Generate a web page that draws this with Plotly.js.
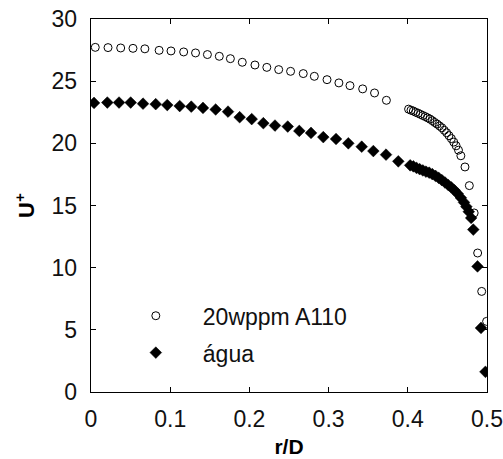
<!DOCTYPE html>
<html>
<head>
<meta charset="utf-8">
<script src="https://cdn.plot.ly/plotly-3.0.1.min.js"></script>
<style>html,body{margin:0;padding:0;background:#fff;}#chart{width:503px;height:459px;}</style>
</head>
<body>
<div id="chart"></div>
<script>
// 20wppm A110 (open circles)
var polyR = [0.0054,0.0215,0.0375,0.053,0.068,0.086,0.101,0.117,0.132,0.147,0.162,0.176,0.191,
  0.207,0.222,0.237,0.252,0.268,0.282,0.298,0.313,0.327,0.343,0.358,0.373,
  0.401,0.404,0.407,0.410,0.413,0.416,0.419,0.422,0.425,0.428,0.431,0.434,0.437,0.440,0.443,0.446,0.449,0.452,0.455,0.458,0.461,0.464,0.467,
  0.4722,0.4777,0.4838,0.4882,0.4933,0.4995];
var polyU = [27.72,27.70,27.67,27.64,27.60,27.48,27.43,27.35,27.27,27.14,27.0,26.81,26.52,
  26.30,26.11,25.93,25.79,25.61,25.39,25.12,24.86,24.64,24.38,24.05,23.46,
  22.75,22.66,22.60,22.50,22.42,22.33,22.24,22.15,22.05,21.95,21.82,21.68,21.55,21.40,21.25,21.05,20.85,20.62,20.38,20.10,19.80,19.45,19.00,
  18.10,16.60,14.40,11.18,8.09,5.68];
// água (filled diamonds)
var aguaR = [0.0038,0.0206,0.0354,0.0501,0.0657,0.0817,0.0963,0.112,0.1266,0.1414,0.1574,0.173,0.1877,
  0.2029,0.2176,0.2323,0.2484,0.2630,0.2778,0.2933,0.3094,0.3249,0.3418,0.3565,0.3725,0.3880,
  0.403,0.407,0.411,0.415,0.419,0.423,0.427,0.431,0.435,0.439,0.443,0.447,0.451,0.455,0.459,0.463,0.467,0.471,0.474,0.477,0.480,0.4827,
  0.488,0.4924,0.498];
var aguaU = [23.25,23.28,23.28,23.28,23.19,23.15,23.08,23.0,22.95,22.85,22.72,22.55,22.1,
  21.95,21.62,21.43,21.35,21.0,20.84,20.5,20.35,20.0,19.73,19.38,19.09,18.55,
  18.23,18.15,18.02,17.92,17.82,17.72,17.64,17.52,17.38,17.22,17.04,16.85,16.65,16.45,16.22,15.95,15.62,15.25,14.9,14.5,14.0,13.06,
  10.1,5.15,1.62];
var seriesNames = ['20wppm A110', 'água'];
var xTicks = [0,0.1,0.2,0.3,0.4,0.5];
var xTickText = ['0','0.1','0.2','0.3','0.4','0.5'];
var yTicks = [0,5,10,15,20,25,30];

var FONT = 'Liberation Sans, Arial, sans-serif';

var traces = [
  {x: polyR, y: polyU, name: seriesNames[0], legendgroup: 'a', type: 'scatter', mode: 'markers',
   marker: {symbol: 'circle-open', size: 8, color: '#000', line: {width: 1, color: '#000'}}},
  {x: aguaR, y: aguaU, name: seriesNames[1], legendgroup: 'b', type: 'scatter', mode: 'markers',
   marker: {symbol: 'diamond', size: 9, color: '#000', line: {width: 0.5, color: '#000'}}}
];

var axCommon = {
  showgrid: false, zeroline: false, showline: true, linecolor: '#000', linewidth: 1.3,
  mirror: 'ticks', ticks: 'inside', ticklen: 5, tickwidth: 1, tickcolor: '#000',
  tickfont: {family: FONT, size: 23, color: '#111'}
};

var layout = {
  width: 503, height: 459,
  margin: {l: 91, r: 16, t: 19, b: 67},
  paper_bgcolor: '#fff', plot_bgcolor: '#fff',
  showlegend: true,
  legend: {x: 0.045, y: 0.262, xanchor: 'left', yanchor: 'top', bgcolor: 'rgba(0,0,0,0)',
           borderwidth: 0, itemwidth: 84, tracegroupgap: 4,
           font: {family: FONT, size: 23, color: '#111'}},
  xaxis: Object.assign({}, axCommon, {
    range: [0, 0.5], tickvals: xTicks, ticktext: xTickText, ticklabelstandoff: 6,
    title: {text: '<b>r/D</b>', font: {family: FONT, size: 21, color: '#000'}, standoff: 8}
  }),
  yaxis: Object.assign({}, axCommon, {
    range: [0, 30], tickvals: yTicks, ticklabelstandoff: 8,
    title: {text: '<b>U<sup>+</sup></b>', font: {family: FONT, size: 22, color: '#000'}, standoff: 10}
  })
};

Plotly.newPlot('chart', traces, layout, {displayModeBar: false, staticPlot: true});
</script>
</body>
</html>
